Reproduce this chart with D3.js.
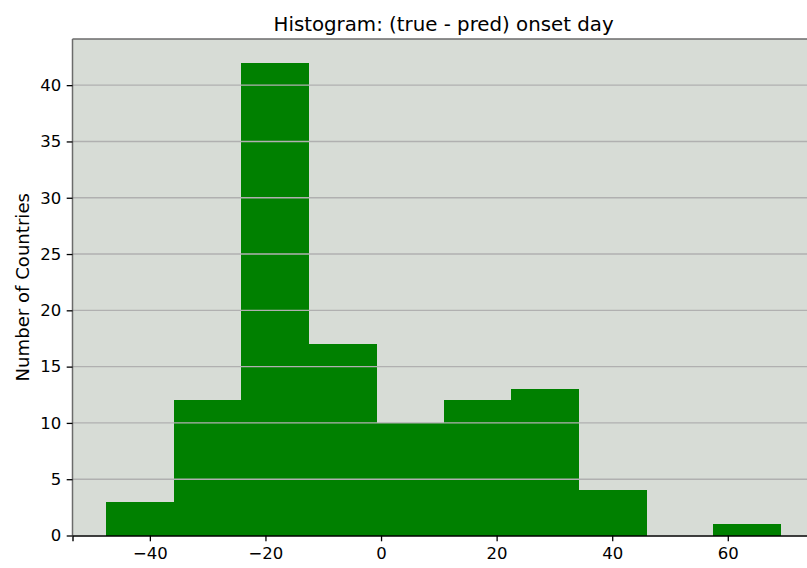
<!DOCTYPE html>
<html>
<head>
<meta charset="utf-8">
<title>Histogram</title>
<script src="https://cdn.jsdelivr.net/npm/d3@7"></script>
<style>
  body{ margin:0; background:#fff; }
  svg text{ font-family:"DejaVu Sans", sans-serif; fill:#000; }
</style>
</head>
<body>
<div id="chart"></div>
<script>
// bin edges (days) and counts
var binEdges = [-47.55, -35.88, -24.2, -12.53, -0.85, 10.82, 22.5, 34.17, 45.85, 57.52, 69.2];
var counts = [3, 12, 42, 17, 10, 12, 13, 4, 0, 1];
var xTicks = [-40, -20, 0, 20, 40, 60];
var yTicks = [0, 5, 10, 15, 20, 25, 30, 35, 40];

var W = 807, H = 568;
var m = {left:72.5, top:39, right:814.7, bottom:535.5};

var svg = d3.select("#chart").append("svg")
    .attr("width", W).attr("height", H);

// matplotlib style 5% margins
var span = binEdges[binEdges.length-1] - binEdges[0];
var x = d3.scaleLinear()
    .domain([binEdges[0] - span*0.05, binEdges[binEdges.length-1] + span*0.05])
    .range([m.left, m.right]);
var y = d3.scaleLinear()
    .domain([0, d3.max(counts)*1.05])
    .range([m.bottom, m.top]);

svg.append("rect")
    .attr("x", m.left).attr("y", m.top)
    .attr("width", m.right - m.left).attr("height", m.bottom - m.top)
    .attr("fill", "#d7dcd6");

// bars
svg.append("g").attr("shape-rendering", "crispEdges")
    .selectAll("rect")
    .data(counts)
    .enter().append("rect")
    .attr("x", function(d,i){ return x(binEdges[i]); })
    .attr("width", function(d,i){ return x(binEdges[i+1]) - x(binEdges[i]) + 0.5; })
    .attr("y", function(d){ return y(d); })
    .attr("height", function(d){ return y(0) - y(d); })
    .attr("fill", "#008000");

// horizontal grid, drawn over the bars
svg.append("g").selectAll("line")
    .data(yTicks.filter(function(d){ return d > 0; }))
    .enter().append("line")
    .attr("x1", m.left).attr("x2", m.right)
    .attr("y1", function(d){ return y(d); })
    .attr("y2", function(d){ return y(d); })
    .attr("stroke", "#b0b0b0").attr("stroke-width", 1.4);

// spines
svg.append("line").attr("x1", m.left).attr("x2", m.right)
    .attr("y1", m.top).attr("y2", m.top)
    .attr("stroke", "#6b6b6b").attr("stroke-width", 1.5);
svg.append("line").attr("x1", m.left).attr("x2", m.left)
    .attr("y1", m.top).attr("y2", m.bottom)
    .attr("stroke", "#6b6b6b").attr("stroke-width", 1.5);

// axes
var xAxis = svg.append("g")
    .attr("transform", "translate(0," + m.bottom + ")")
    .call(d3.axisBottom(x).tickValues(xTicks).tickSize(5.8).tickPadding(5.5)
        .tickFormat(function(d){ return d < 0 ? "\u2212" + Math.abs(d) : d; }));
xAxis.select(".domain").attr("stroke", "#000").attr("stroke-width", 1.4);

var yAxis = svg.append("g")
    .attr("transform", "translate(" + m.left + ",0)")
    .call(d3.axisLeft(y).tickValues(yTicks).tickSize(5.8).tickPadding(5.5));
yAxis.select(".domain").remove();

svg.selectAll(".tick line").attr("stroke", "#000").attr("stroke-width", 1.3);
svg.selectAll(".tick text").style("font-size", "16.5px")
    .style("font-family", "DejaVu Sans, sans-serif");

// title and label
svg.append("text")
    .attr("x", (m.left + m.right) / 2).attr("y", 31)
    .attr("text-anchor", "middle")
    .style("font-size", "19.8px")
    .text("Histogram: (true - pred) onset day");

svg.append("text")
    .attr("transform", "translate(29," + ((m.top + m.bottom) / 2) + ") rotate(-90)")
    .attr("text-anchor", "middle")
    .style("font-size", "18.1px")
    .text("Number of Countries");
</script>
</body>
</html>
